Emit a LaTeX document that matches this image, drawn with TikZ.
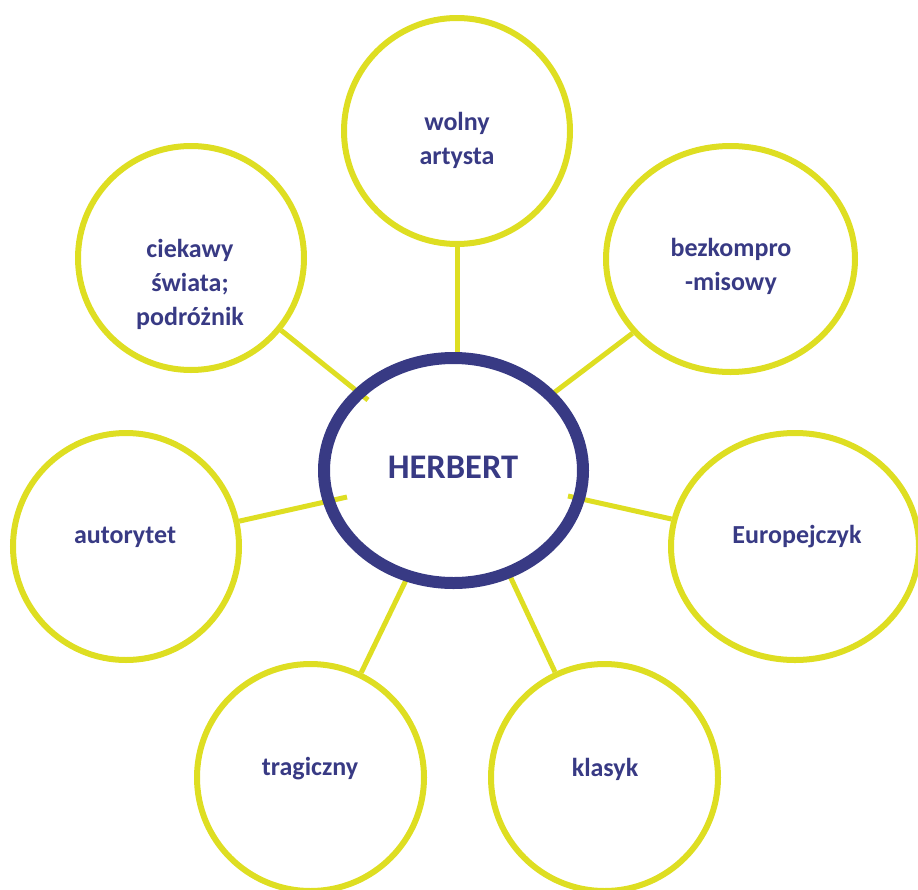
\documentclass[tikz,border=0pt]{standalone}
\usepackage{fontspec}
\setmainfont{Carlito}
\usetikzlibrary{shapes.geometric}
\definecolor{ylw}{RGB}{222,222,34}
\definecolor{navy}{RGB}{56,58,132}
\tikzset{
  bubble/.style={draw=ylw, line width=6pt, ellipse, inner sep=0pt},
  link/.style={draw=ylw, line width=5pt},
  word/.style={text=navy, font=\bfseries\fontsize{26}{34}\selectfont, align=center, inner sep=0pt},
  core/.style={draw=navy, line width=12pt, ellipse, inner sep=0pt, minimum width=259pt, minimum height=225pt}
}
\begin{document}
\begin{tikzpicture}[x=1pt,y=-1pt]
\useasboundingbox (0,0) rectangle (918,889);
% outer bubbles
\node[bubble, minimum width=226pt, minimum height=226pt] (w) at (457,131) {};
\node[bubble, minimum width=249pt, minimum height=226pt] (b) at (730.5,259) {};
\node[bubble, minimum width=226pt, minimum height=224pt] (c) at (191,258) {};
\node[bubble, minimum width=226pt, minimum height=227pt] (a) at (126,546.5) {};
\node[bubble, minimum width=248pt, minimum height=227pt] (e) at (795,546.5) {};
\node[bubble, minimum width=227pt, minimum height=227pt] (t) at (310.5,777.5) {};
\node[bubble, minimum width=227pt, minimum height=227pt] (k) at (604.5,777.5) {};
% connector ends inside the centre
\coordinate (ew) at (457,358);
\coordinate (eb) at (551,395);
\coordinate (ec) at (368,400);
\coordinate (ea) at (347,497);
\coordinate (ee) at (568,496);
\coordinate (et) at (407,578);
\coordinate (ek) at (509,574);
\draw[link] (w) -- (ew);
\draw[link] (b) -- (eb);
\draw[link] (c) -- (ec);
\draw[link] (a) -- (ea);
\draw[link] (e) -- (ee);
\draw[link] (t) -- (et);
\draw[link] (k) -- (ek);
% centre
\node[core] (h) at (453.5,470.5) {};
\node[text=navy, font=\bfseries\fontsize{34.5}{40}\selectfont, inner sep=0pt] (ht) at (453,467) {HERBERT};
% texts
\node[word] (tw) at (457,140) {wolny\\artysta};
\node[word] (tb) at (731,266) {bezkompro\\-misowy};
\node[word] (tc) at (190,284) {ciekawy\\świata;\\podróżnik};
\node[word] (ta) at (125,537) {autorytet};
\node[word] (te) at (797,537) {Europejczyk};
\node[word] (tt) at (310,769) {tragiczny};
\node[word] (tk) at (605,769) {klasyk};
\end{tikzpicture}
\end{document}
